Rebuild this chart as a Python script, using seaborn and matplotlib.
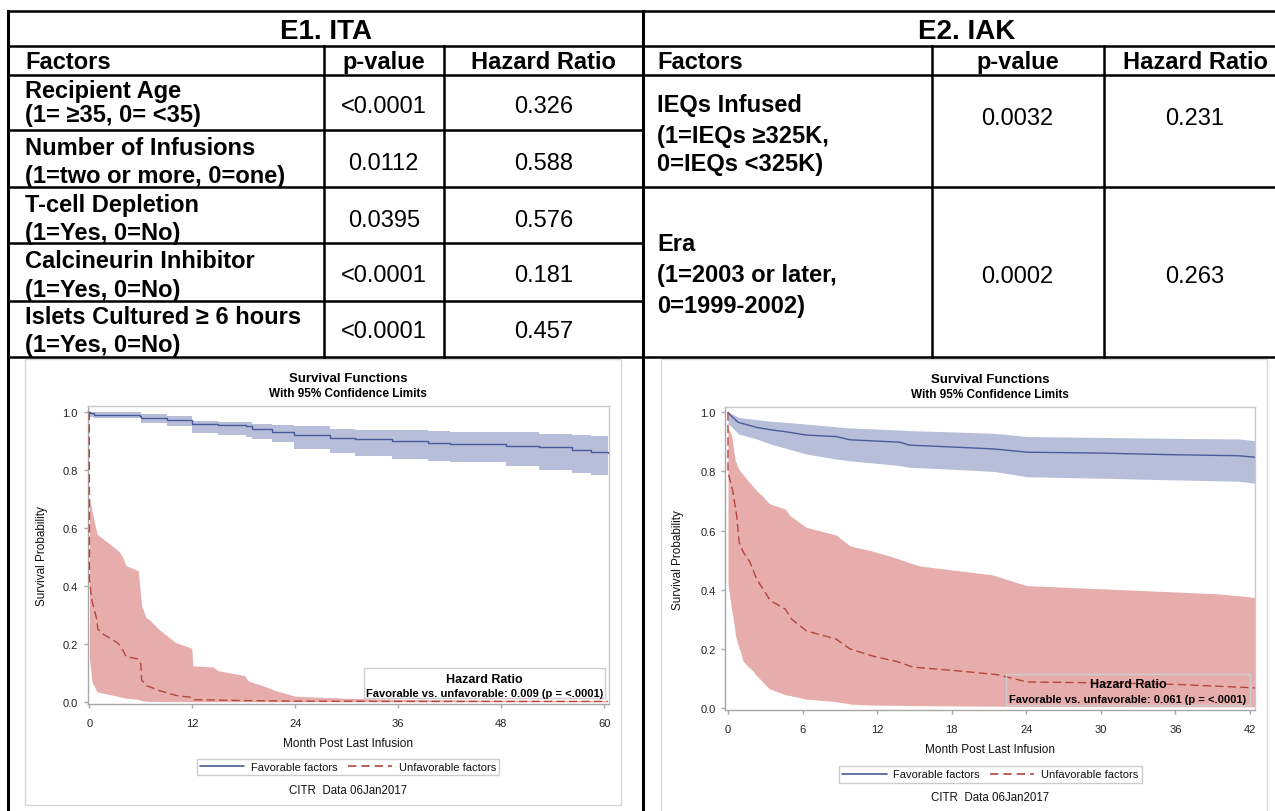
import matplotlib
matplotlib.use("Agg")
import matplotlib.pyplot as plt
import seaborn as sns
from matplotlib.lines import Line2D
from matplotlib.patches import Rectangle

# ---------------- table content ----------------
ita_title = "E1. ITA"
iak_title = "E2. IAK"
header = ["Factors", "p-value", "Hazard Ratio"]

ita_factors = [
    ("Recipient Age", "(1= ≥35, 0= <35)"),
    ("Number of Infusions", "(1=two or more, 0=one)"),
    ("T-cell Depletion", "(1=Yes, 0=No)"),
    ("Calcineurin Inhibitor", "(1=Yes, 0=No)"),
    ("Islets Cultured ≥ 6 hours", "(1=Yes, 0=No)"),
]
ita_pvalues = ["<0.0001", "0.0112", "0.0395", "<0.0001", "<0.0001"]
ita_hr = ["0.326", "0.588", "0.576", "0.181", "0.457"]

iak_factors = [
    ("IEQs Infused", "(1=IEQs ≥325K,", "0=IEQs <325K)"),
    ("Era", "(1=2003 or later,", "0=1999-2002)"),
]
iak_pvalues = ["0.0032", "0.0002"]
iak_hr = ["0.231", "0.263"]

# ---------------- survival curves: ITA ----------------
ita_fav_t = [0, 0.1, 0.5, 5.9, 6.0, 9, 12.0, 15, 18.3, 19.0, 21.3, 23.8, 28, 31,
             35.3, 39.5, 42, 48.5, 52.4, 56.2, 58.5, 60.4]
ita_fav_s = [1.0, 0.994, 0.99, 0.985, 0.977, 0.973, 0.959, 0.955, 0.952, 0.94,
             0.931, 0.92, 0.91, 0.906, 0.90, 0.892, 0.889, 0.883, 0.877, 0.869,
             0.862, 0.858]
ita_fav_hi = [1.0, 1.0, 0.998, 0.998, 0.991, 0.985, 0.969, 0.966, 0.963, 0.957,
              0.953, 0.95, 0.94, 0.938, 0.936, 0.932, 0.93, 0.929, 0.924, 0.92,
              0.917, 0.915]
ita_fav_lo = [1.0, 0.982, 0.978, 0.977, 0.96, 0.952, 0.927, 0.92, 0.912, 0.905,
              0.894, 0.871, 0.858, 0.848, 0.838, 0.83, 0.826, 0.814, 0.799, 0.79,
              0.782, 0.774]

ita_unf_t = [0, 0.02, 0.3, 0.86, 1.0, 1.5, 3.2, 3.7, 4.3, 5.6, 6.0, 6.1, 6.7,
             8.2, 10.2, 11.9, 12.2, 18, 24, 36, 60.4]
ita_unf_s = [1.0, 0.42, 0.35, 0.285, 0.25, 0.235, 0.205, 0.19, 0.155, 0.148,
             0.13, 0.075, 0.055, 0.038, 0.021, 0.015, 0.007, 0.004, 0.002,
             0.001, 0.001]
ita_unf_band_t = [0.02, 0.3, 0.9, 3.4, 3.8, 4.3, 5.7, 6.1, 6.6, 7.1, 8.1, 10.0,
                  11.95, 12.05, 14.4, 15.0, 18.1, 18.5, 20.7, 21.5, 24.0, 30,
                  36, 48, 60.4]
ita_unf_hi = [0.705, 0.66, 0.578, 0.52, 0.503, 0.469, 0.452, 0.331, 0.291, 0.28,
              0.25, 0.205, 0.184, 0.124, 0.12, 0.107, 0.09, 0.072, 0.05, 0.04,
              0.019, 0.012, 0.008, 0.005, 0.004]
ita_unf_lo = [0.15, 0.07, 0.034, 0.018, 0.015, 0.012, 0.008, 0.003, 0.002,
              0.001, 0.001, 0.0, 0.0, 0.0, 0.0, 0.0, 0.0, 0.0, 0.0, 0.0, 0.0,
              0.0, 0.0, 0.0, 0.0]

# ---------------- survival curves: IAK ----------------
iak_fav_t = [0, 0.2, 0.83, 2.3, 3.4, 4.7, 6.3, 8.7, 9.8, 13.8, 14.6, 17.8, 21.4,
             24.1, 30, 35.2, 41.1, 42.4]
iak_fav_s = [1.0, 0.99, 0.966, 0.949, 0.941, 0.934, 0.923, 0.918, 0.907, 0.899,
             0.889, 0.883, 0.876, 0.865, 0.862, 0.857, 0.853, 0.848]
iak_fav_hi = [1.0, 0.997, 0.983, 0.975, 0.97, 0.966, 0.96, 0.951, 0.947, 0.94,
              0.938, 0.934, 0.929, 0.918, 0.915, 0.912, 0.91, 0.904]
iak_fav_lo = [0.96, 0.955, 0.927, 0.91, 0.893, 0.878, 0.859, 0.842, 0.836, 0.82,
              0.814, 0.808, 0.8, 0.782, 0.777, 0.772, 0.767, 0.76]

iak_unf_t = [0, 0, 0.38, 0.7, 0.9, 1.23, 1.77, 2.3, 3.0, 3.4, 4.6, 5.1, 6.3, 8.7,
             9.8, 11.7, 13.6, 14.9, 18.4, 21.6, 24.1, 30, 36, 42.4]
iak_unf_s = [1.0, 0.797, 0.735, 0.65, 0.56, 0.527, 0.493, 0.436, 0.391, 0.363,
             0.335, 0.301, 0.261, 0.233, 0.2, 0.175, 0.157, 0.138, 0.126, 0.113,
             0.088, 0.085, 0.08, 0.068]
iak_unf_band_t = [0, 0.3, 0.43, 0.56, 0.6, 0.9, 0.96, 1.2, 1.5, 2.0, 2.3, 2.7,
                  3.2, 3.4, 4.6, 5.0, 6.3, 8.6, 8.7, 9.8, 9.9, 11.5, 13.3, 14.9,
                  15.5, 21.3, 24.0, 39.5, 42.4]
iak_unf_hi = [0.949, 0.921, 0.88, 0.842, 0.835, 0.805, 0.803, 0.79, 0.774, 0.75,
              0.735, 0.72, 0.696, 0.69, 0.673, 0.65, 0.611, 0.586, 0.585, 0.549,
              0.547, 0.532, 0.51, 0.487, 0.48, 0.45, 0.414, 0.386, 0.374]
iak_unf_lo = [0.419, 0.33, 0.301, 0.26, 0.245, 0.2, 0.198, 0.16, 0.145, 0.126,
              0.11, 0.092, 0.07, 0.064, 0.045, 0.042, 0.03, 0.022, 0.021, 0.014,
              0.013, 0.01, 0.009, 0.008, 0.008, 0.006, 0.005, 0.004, 0.004]

ita_hr_note = "Favorable vs. unfavorable: 0.009 (p = <.0001)"
iak_hr_note = "Favorable vs. unfavorable: 0.061 (p = <.0001)"
ita_xticks = [0, 12, 24, 36, 48, 60]
iak_xticks = [0, 6, 12, 18, 24, 30, 36, 42]
yticks = [0.0, 0.2, 0.4, 0.6, 0.8, 1.0]
legend_labels = ["Favorable factors", "Unfavorable factors"]
footnote = "CITR  Data 06Jan2017"

# ---------------- styling ----------------
sns.set_theme(style="white")
plt.rcParams["font.family"] = ["Liberation Sans", "DejaVu Sans"]

BLUE = "#4a5b9a"
BLUE_FILL = "#b7bed9"
RED = "#b4463b"
RED_FILL = "#e7adad"

W, H = 1275, 812
fig = plt.figure(figsize=(W / 100, H / 100), dpi=100)
fig.patch.set_facecolor("white")


def X(px):
    return px / W


def Y(py):
    return 1 - py / H


def ftext(px, py, s, size, bold=False, ha="center", color="black"):
    """Place text so that its capital letters are centred on pixel row py."""
    em = size * 100 / 72
    fig.text(X(px), Y(py + 0.358 * em), s, fontsize=size,
             fontweight="bold" if bold else "normal", ha=ha, va="baseline",
             color=color)


def hline(y, x0, x1, lw=1.8, color="black"):
    fig.add_artist(Line2D([X(x0), X(x1)], [Y(y), Y(y)], transform=fig.transFigure,
                          lw=lw, color=color, solid_capstyle="projecting"))


def vline(x, y0, y1, lw=1.8, color="black"):
    fig.add_artist(Line2D([X(x), X(x)], [Y(y0), Y(y1)], transform=fig.transFigure,
                          lw=lw, color=color, solid_capstyle="projecting"))


def frame(x0, y0, x1, y1, color, lw=1.0):
    fig.add_artist(Rectangle((X(x0), Y(y1)), (x1 - x0) / W, (y1 - y0) / H,
                             transform=fig.transFigure, fill=False,
                             edgecolor=color, lw=lw))


# ---------------- table grid ----------------
T_TOP, T_TITLE, T_HEAD, T_BOT = 11.7, 46.7, 76, 358
L_EDGE, MID, R_EDGE = 8.2, 643.2, 1290
ita_cols = [323.7, 443.7]
iak_cols = [931.7, 1103.6]
ita_row_lines = [131, 188, 244, 302]

hline(T_TOP, L_EDGE, R_EDGE)
hline(T_TITLE, L_EDGE, R_EDGE)
hline(T_HEAD, L_EDGE, R_EDGE)
hline(T_BOT, L_EDGE, R_EDGE)
for y in ita_row_lines:
    hline(y, L_EDGE, MID)
hline(188, MID, R_EDGE)
vline(L_EDGE, T_TOP, 812, lw=2.2)
vline(MID, T_TOP, 812, lw=2.2)
for x in ita_cols + iak_cols:
    vline(x, T_TITLE, T_BOT)

# titles and headers
ftext((L_EDGE + MID) / 2, 29.2, ita_title, 20, bold=True)
ftext((MID + R_EDGE) / 2, 29.2, iak_title, 20, bold=True)
head_y = 61.0
ftext(25, head_y, header[0], 17, bold=True, ha="left")
ftext(383.7, head_y, header[1], 17, bold=True)
ftext(543.4, head_y, header[2], 17, bold=True)
ftext(657.4, head_y, header[0], 17, bold=True, ha="left")
ftext(1017.6, head_y, header[1], 17, bold=True)
ftext(1195.0, head_y, header[2], 17, bold=True)

# ITA rows
ita_line1 = [90, 146.7, 203.3, 260, 315.3]
ita_line2 = [114, 174.7, 231.7, 288.3, 343.3]
ita_val_y = [105, 161.7, 218.3, 273.3, 330]
for (a, b), y1, y2, yv, p, hr in zip(ita_factors, ita_line1, ita_line2,
                                      ita_val_y, ita_pvalues, ita_hr):
    ftext(25, y1, a, 17, bold=True, ha="left")
    ftext(25, y2, b, 17, bold=True, ha="left")
    ftext(383.7, yv, p, 17)
    ftext(543.4, yv, hr, 17)

# IAK rows
iak_lines = [(104, 135, 163), (242.5, 273.3, 305)]
iak_val_y = [117, 275]
for lines, ys, yv, p, hr in zip(iak_factors, iak_lines, iak_val_y,
                                iak_pvalues, iak_hr):
    for s, y in zip(lines, ys):
        ftext(657.4, y, s, 17, bold=True, ha="left")
    ftext(1017.6, yv, p, 17)
    ftext(1195.0, yv, hr, 17)


# ---------------- survival panels ----------------
def km_panel(box, rect, xlim, ylim, xticks, fav, unf, fav_steps,
             title_y, xlab_y, ylab_x, hr_box, hr_lines, legend_y, foot_y,
             hr_note):
    frame(*box, color="#d6d6d6", lw=1.0)
    l, t, r, b = rect
    ax = fig.add_axes([X(l), Y(b), (r - l) / W, (b - t) / H])
    ax.set_facecolor("white")

    ft, fs, fhi, flo = fav
    ut, us, ubt, uhi, ulo = unf

    # confidence bands
    if fav_steps:
        ax.fill_between(ft, flo, fhi, step="post", color=BLUE_FILL, lw=0, zorder=1)
    else:
        ax.fill_between(ft, flo, fhi, color=BLUE_FILL, lw=0, zorder=1)
    ax.fill_between(ubt, ulo, uhi, color=RED_FILL, lw=0, zorder=1)

    # survival curves
    sns.lineplot(x=ft, y=fs, ax=ax, color=BLUE, lw=1.0, estimator=None,
                 sort=False, drawstyle="steps-post" if fav_steps else "default",
                 zorder=3)
    sns.lineplot(x=ut, y=us, ax=ax, color=RED, lw=1.0, estimator=None,
                 sort=False, linestyle=(0, (6, 3)), zorder=3)

    ax.set_xlim(*xlim)
    ax.set_ylim(*ylim)
    ax.set_xticks(xticks)
    ax.set_xticklabels([str(v) for v in xticks])
    ax.set_yticks(yticks)
    ax.set_yticklabels([f"{v:.1f}" for v in yticks])
    ax.tick_params(axis="both", which="major", length=3, width=1.0,
                   color="#a8a8a8", labelsize=8, labelcolor="#222222",
                   bottom=True, left=True)
    ax.tick_params(axis="x", pad=7)
    ax.tick_params(axis="y", pad=4)
    for side, sp in ax.spines.items():
        sp.set_visible(True)
        sp.set_linewidth(1.0)
        sp.set_color("#a8a8a8" if side in ("left", "bottom") else "#c8c8c8")

    ax.set_xlabel("Month Post Last Infusion", fontsize=8.5, color="#111111")
    ax.set_ylabel("Survival Probability", fontsize=8.5, color="#111111")
    ax.xaxis.label.set_va("center")
    ax.yaxis.label.set_va("center")
    ax.xaxis.set_label_coords(0.5, -(xlab_y - b) / (b - t))
    ax.yaxis.set_label_coords((ylab_x - l) / (r - l), 0.5)

    cx = (l + r) / 2
    ftext(cx, title_y, "Survival Functions", 9.5, bold=True)
    ftext(cx, title_y + 15, "With 95% Confidence Limits", 8.5, bold=True)

    # hazard ratio inset
    frame(*hr_box, color="#cfcfcf", lw=1.0)
    hx = (hr_box[0] + hr_box[2]) / 2
    ftext(hx, hr_lines[0], "Hazard Ratio", 9, bold=True)
    ftext(hx, hr_lines[1], hr_note, 8, bold=True)

    handles = [Line2D([], [], color=BLUE, lw=1.2),
               Line2D([], [], color=RED, lw=1.2, linestyle=(0, (5, 3)))]
    leg = ax.legend(handles, legend_labels, ncol=2, loc="center",
                    bbox_to_anchor=(X(cx), Y(legend_y)),
                    bbox_transform=fig.transFigure, frameon=True, fancybox=False,
                    fontsize=8, handlelength=4.0, handletextpad=0.6,
                    columnspacing=0.9, borderpad=0.3, framealpha=1)
    leg.get_frame().set_edgecolor("#cccccc")
    leg.get_frame().set_linewidth(1.0)
    for txt in leg.get_texts():
        txt.set_color("#111111")
    ftext(cx, foot_y, footnote, 8.3, color="#111111")
    return ax


km_panel(box=(24.5, 360, 621, 806), rect=(87.5, 407.3, 608.7, 705),
         xlim=(-0.21, 60.52), ylim=(-0.0079, 1.0186), xticks=ita_xticks,
         fav=(ita_fav_t, ita_fav_s, ita_fav_hi, ita_fav_lo),
         unf=(ita_unf_t, ita_unf_s, ita_unf_band_t, ita_unf_hi, ita_unf_lo),
         fav_steps=True, title_y=377.5, xlab_y=744, ylab_x=41.7,
         hr_box=(364, 669.3, 605, 699.3), hr_lines=(678.5, 692.7),
         legend_y=768, foot_y=789.5, hr_note=ita_hr_note)

km_panel(box=(660.7, 360, 1267, 840), rect=(725.5, 408.3, 1255, 711),
         xlim=(-0.2, 42.4), ylim=(-0.0068, 1.0169), xticks=iak_xticks,
         fav=(iak_fav_t, iak_fav_s, iak_fav_hi, iak_fav_lo),
         unf=(iak_unf_t, iak_unf_s, iak_unf_band_t, iak_unf_hi, iak_unf_lo),
         fav_steps=False, title_y=378.5, xlab_y=750, ylab_x=678.3,
         hr_box=(1006, 675, 1250, 706), hr_lines=(683.5, 699),
         legend_y=775.5, foot_y=796.7, hr_note=iak_hr_note)

fig.savefig("out.png", dpi=100, facecolor="white")
